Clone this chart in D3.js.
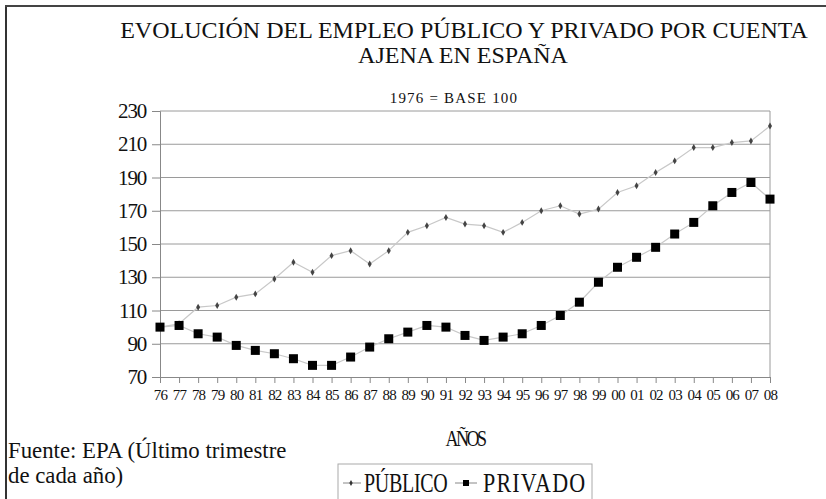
<!DOCTYPE html>
<html>
<head>
<meta charset="utf-8">
<script src="https://cdn.jsdelivr.net/npm/d3@7"></script>
<style>
  body { margin: 0; background: #fff; }
  svg { display: block; font-family: "Liberation Serif", "Times New Roman", serif; }
</style>
</head>
<body>
<div id="chart"></div>
<script>
// data
var years = ["76","77","78","79","80","81","82","83","84","85","86","87","88","89","90",
             "91","92","93","94","95","96","97","98","99","00","01","02","03","04","05","06","07","08"];
var publico = [100,102,112,113,118,120,129,139,133,143,146,138,146,157,161,
               166,162,161,157,163,170,173,168,171,181,185,193,200,208,208,211,212,221];
var privado = [100,101,96,94,89,86,84,81,77,77,82,88,93,97,101,
               100,95,92,94,96,101,107,115,127,136,142,148,156,163,173,181,187,177];
var yTicks = [70,90,110,130,150,170,190,210,230];

var svgWidth = 826, svgHeight = 499;
var svg = d3.select("#chart").append("svg")
  .attr("width", svgWidth)
  .attr("height", svgHeight);

// frame (left + top edges)
svg.append("line").attr("x1", 6).attr("x2", 6).attr("y1", 6).attr("y2", svgHeight)
  .attr("stroke", "#333").attr("stroke-width", 2);
svg.append("line").attr("x1", 5).attr("x2", svgWidth).attr("y1", 6).attr("y2", 6)
  .attr("stroke", "#444").attr("stroke-width", 2);

// titles
svg.append("text").attr("x", 464).attr("y", 38).attr("text-anchor", "middle")
  .style("font-size", "24px").style("fill", "#111")
  .text("EVOLUCIÓN DEL EMPLEO PÚBLICO Y PRIVADO POR CUENTA");
svg.append("text").attr("x", 463).attr("y", 63).attr("text-anchor", "middle")
  .style("font-size", "24px").style("fill", "#111")
  .text("AJENA EN ESPAÑA");
svg.append("text").attr("x", 454).attr("y", 103).attr("text-anchor", "middle")
  .style("font-size", "15px").style("letter-spacing", "1.2px").style("fill", "#111")
  .text("1976 = BASE 100");

// scales
var x = d3.scalePoint().domain(years).range([160, 770]);
var y = d3.scaleLinear().domain([70, 230]).range([377, 111]);

var g = svg.append("g");

// gridlines
g.append("g").selectAll("line").data(yTicks.slice(1)).enter().append("line")
  .attr("x1", 160).attr("x2", 770)
  .attr("y1", d => y(d)).attr("y2", d => y(d))
  .attr("stroke", "#9a9a9a").attr("stroke-width", 1);
// right border
g.append("line").attr("x1", 770).attr("x2", 770).attr("y1", y(230)).attr("y2", y(70))
  .attr("stroke", "#9a9a9a");

// y axis
var yAxis = g.append("g").attr("transform", "translate(160,0)")
  .call(d3.axisLeft(y).tickValues(yTicks).tickSize(8).tickPadding(6));
yAxis.select(".domain").attr("stroke", "#888");
yAxis.selectAll(".tick line").attr("stroke", "#888");
yAxis.selectAll("text").style("font-family", "Liberation Serif").style("font-size", "21px")
  .style("letter-spacing", "-1.2px").attr("fill", "#111");

// x axis
var xAxis = g.append("g").attr("transform", "translate(0," + y(70) + ")")
  .call(d3.axisBottom(x).tickSize(6).tickPadding(6).tickSizeOuter(0));
xAxis.select(".domain").attr("stroke", "#888");
xAxis.selectAll(".tick line").attr("stroke", "#888");
xAxis.selectAll("text").style("font-family", "Liberation Serif").style("font-size", "15px")
  .style("letter-spacing", "-0.8px").attr("fill", "#111");

// lines
var line = d3.line().x((d, i) => x(years[i])).y(d => y(d));
g.append("path").datum(publico).attr("d", line)
  .attr("fill", "none").attr("stroke", "#c8c8c8").attr("stroke-width", 1.2);
g.append("path").datum(privado).attr("d", line)
  .attr("fill", "none").attr("stroke", "#c8c8c8").attr("stroke-width", 1.2);

// markers
g.append("g").selectAll("path").data(publico).enter().append("path")
  .attr("d", d3.symbol().type(d3.symbolDiamond).size(14))
  .attr("transform", (d, i) => "translate(" + x(years[i]) + "," + y(d) + ")")
  .attr("fill", "#444");
g.append("g").selectAll("rect").data(privado).enter().append("rect")
  .attr("x", (d, i) => x(years[i]) - 4.5).attr("y", d => y(d) - 4.5)
  .attr("width", 9).attr("height", 9).attr("fill", "#000");

// axis title (tall, condensed)
svg.append("text").attr("transform", "translate(465,446) scale(1,1.25)")
  .attr("text-anchor", "middle")
  .style("font-size", "18px").style("letter-spacing", "-2.5px").style("fill", "#111")
  .text("AÑOS");

// source note
svg.append("text").attr("x", 8).attr("y", 458)
  .style("font-size", "22.8px").style("fill", "#111")
  .text("Fuente: EPA (Último trimestre");
svg.append("text").attr("x", 8).attr("y", 483)
  .style("font-size", "22.8px").style("fill", "#111")
  .text("de cada año)");

// legend
var leg = svg.append("g");
leg.append("rect").attr("x", 338).attr("y", 464).attr("width", 254).attr("height", 40)
  .attr("fill", "#fff").attr("stroke", "#aaa");
leg.append("line").attr("x1", 343).attr("x2", 361).attr("y1", 483).attr("y2", 483)
  .attr("stroke", "#888");
leg.append("path").attr("d", d3.symbol().type(d3.symbolDiamond).size(10))
  .attr("transform", "translate(351,483)").attr("fill", "#333");
leg.append("text").attr("transform", "translate(364,492) scale(1,1.35)")
  .style("font-size", "20px").style("letter-spacing", "-0.3px").style("fill", "#111")
  .text("PÚBLICO");
leg.append("line").attr("x1", 455).attr("x2", 477).attr("y1", 483).attr("y2", 483)
  .attr("stroke", "#888");
leg.append("rect").attr("x", 463).attr("y", 480).attr("width", 6).attr("height", 6)
  .attr("fill", "#000");
leg.append("text").attr("transform", "translate(483,492) scale(1,1.25)")
  .style("font-size", "22px").style("letter-spacing", "1.2px").style("fill", "#111")
  .text("PRIVADO");
</script>
</body>
</html>
